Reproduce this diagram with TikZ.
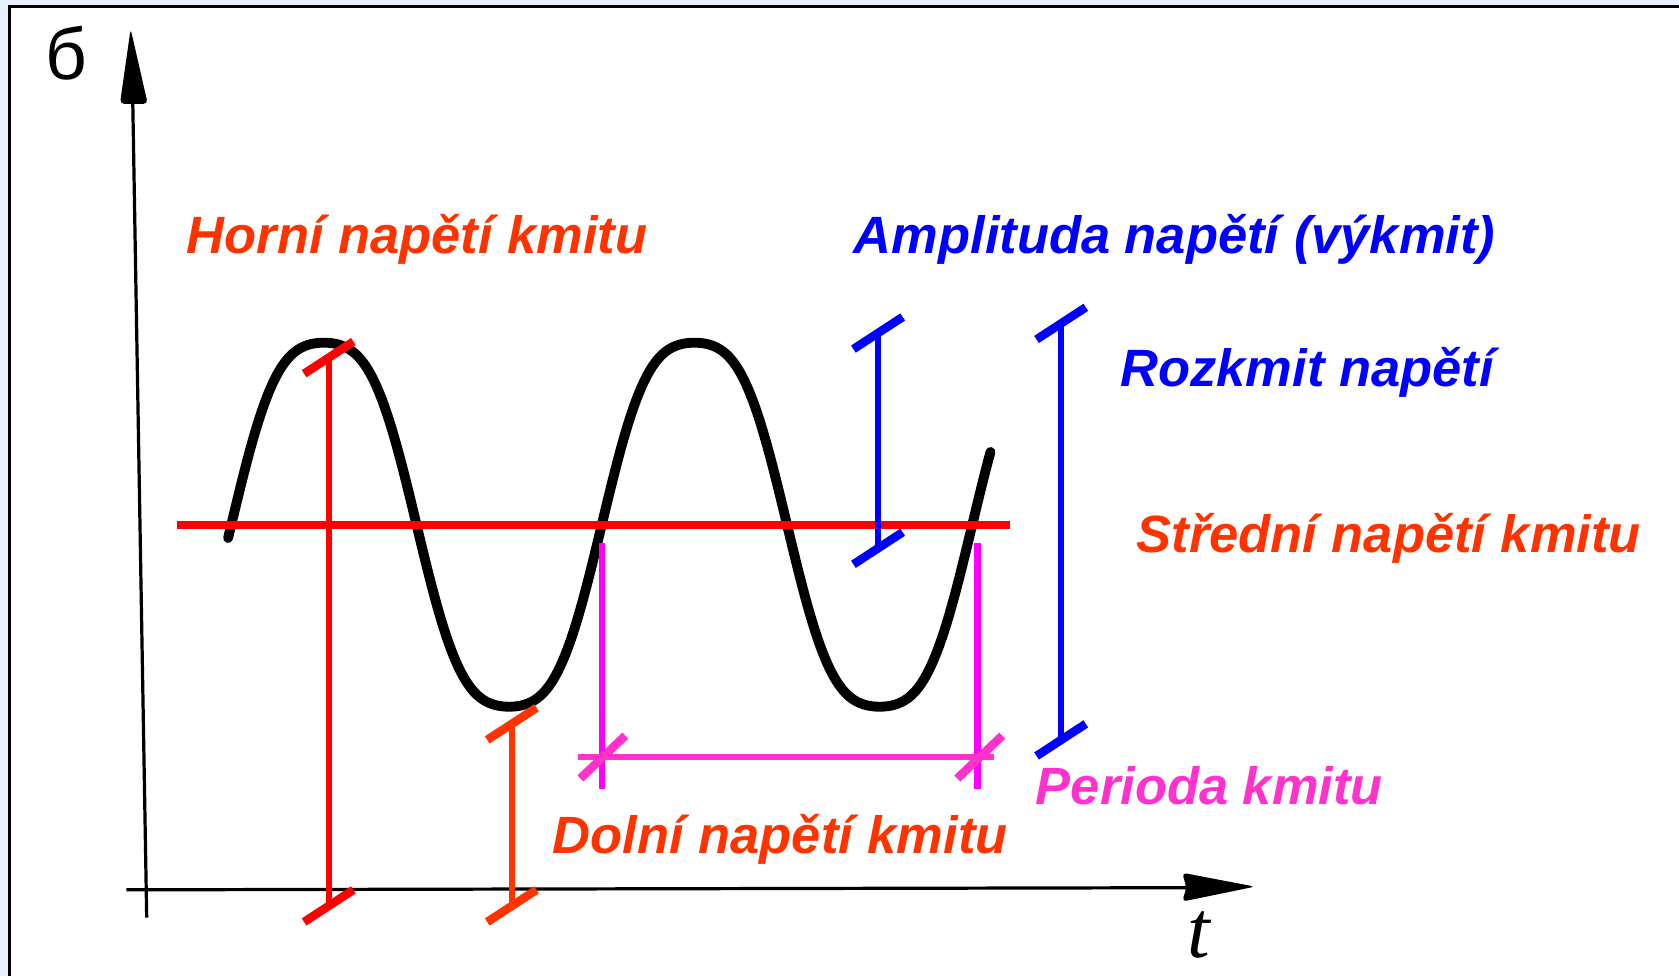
\documentclass[tikz,border=0pt]{standalone}
\usepackage{fontspec}
\setmainfont{Liberation Sans}
\newfontfamily\serifhand{Liberation Serif}
\definecolor{orred}{HTML}{FF3300}
\definecolor{bl}{HTML}{0000FF}
\definecolor{pinkt}{HTML}{FF33CC}
\definecolor{mag}{HTML}{FF00FF}
\definecolor{bgblue}{HTML}{E6EFFA}
% #1 style, #2 coordinate, #3 dx, #4 dy
\newcommand\tickat[4]{\draw[#1] ([shift={(-#3,-#4)}]#2) -- ([shift={(#3,#4)}]#2);}
\begin{document}
\begin{tikzpicture}[x=0.5pt,y=-0.5pt,
  lbl/.style={font=\fontsize{24.5}{28}\selectfont\bfseries\itshape, inner sep=0, anchor=base west},
  axisline/.style={line width=1.5pt, black},
  wave/.style={line width=4.6pt, black, line cap=round, line join=round},
  vbar/.style={line width=3pt},
  tickline/.style={line width=4pt}]
\useasboundingbox (0,0) rectangle (1568,911);
\fill[bgblue] (0,0) rectangle (1568,911);
\fill[white] (9,6) rectangle (1568,911);
\draw[line width=1.4pt] (9,911) -- (9,6) -- (1568,6);

% axes
\coordinate (ybot) at (137,857);
\coordinate (ytop) at (124,96);
\coordinate (xl) at (118,831);
\coordinate (xr) at (1108,829);
\draw[axisline] (ybot) -- (ytop);
\fill[rounded corners=2pt] (122,27) -- (112,97) -- (138,97) -- cycle;
\draw[axisline] (xl) -- (xr);
\fill[rounded corners=2pt] (1172,828) -- (1104,815) -- (1108,829) -- (1104,842) -- cycle;
\node[font=\fontsize{34}{34}\selectfont, inner sep=0] (sigma) at (62,50) {б};
\node[font=\serifhand\itshape\fontsize{38}{38}\selectfont, inner sep=0] (tlab) at (1120,873) {t};

% wave
\draw[wave] plot[domain=213:925, samples=240, smooth]
  (\x, {490 - 170*(sin(1.04046*(\x-216)) + 0.08*sin(3.12139*(\x-216)))/0.92});

% mean line
\coordinate (ml) at (165,490);
\coordinate (mr) at (943,490);
\draw[red, line width=3.7pt] (ml) -- (mr);

% Horni bracket
\coordinate (ht) at (307,334);
\coordinate (hb) at (307,846);
\draw[red, vbar] (ht) -- (hb);
\tickat{red, tickline}{ht}{23}{-15}
\tickat{red, tickline}{hb}{23}{-15}

% Dolni bracket
\coordinate (dt) at (478,676);
\coordinate (db) at (478,846);
\draw[orred, vbar] (dt) -- (db);
\tickat{orred, tickline}{dt}{23}{-15}
\tickat{orred, tickline}{db}{23}{-15}

% Amplituda bracket
\coordinate (at) at (820,311);
\coordinate (ab) at (820,512);
\draw[bl, vbar] (at) -- (ab);
\tickat{bl, tickline}{at}{23}{-15}
\tickat{bl, tickline}{ab}{23}{-15}

% Rozkmit bracket
\coordinate (rt) at (991,302);
\coordinate (rb) at (991,691);
\draw[bl, vbar] (rt) -- (rb);
\tickat{bl, tickline}{rt}{23}{-15}
\tickat{bl, tickline}{rb}{23}{-15}

% Perioda
\coordinate (p1t) at (562,507);
\coordinate (p1b) at (562,737);
\coordinate (p2t) at (913,507);
\coordinate (p2b) at (913,737);
\draw[mag, vbar] (p1t) -- (p1b);
\draw[mag, vbar] (p2t) -- (p2b);
\coordinate (phl) at (540,707);
\coordinate (phr) at (928,707);
\draw[pinkt, vbar] (phl) -- (phr);
\coordinate (pk1) at (563,707);
\coordinate (pk2) at (915,707);
\tickat{pinkt, tickline}{pk1}{21}{-20}
\tickat{pinkt, tickline}{pk2}{21}{-20}

% labels
\node[lbl, text=orred] (horni) at (174,237) {Horní napětí kmitu};
\node[lbl, text=bl] (ampl) at (797,237) {Amplituda napětí (výkmit)};
\node[lbl, text=bl] (rozk) at (1046,361) {Rozkmit napětí};
\node[lbl, text=orred] (stred) at (1061,516) {Střední napětí kmitu};
\node[lbl, text=pinkt] (perioda) at (967,751) {Perioda kmitu};
\node[lbl, text=orred] (dolni) at (516,797) {Dolní napětí kmitu};
\end{tikzpicture}
\end{document}
